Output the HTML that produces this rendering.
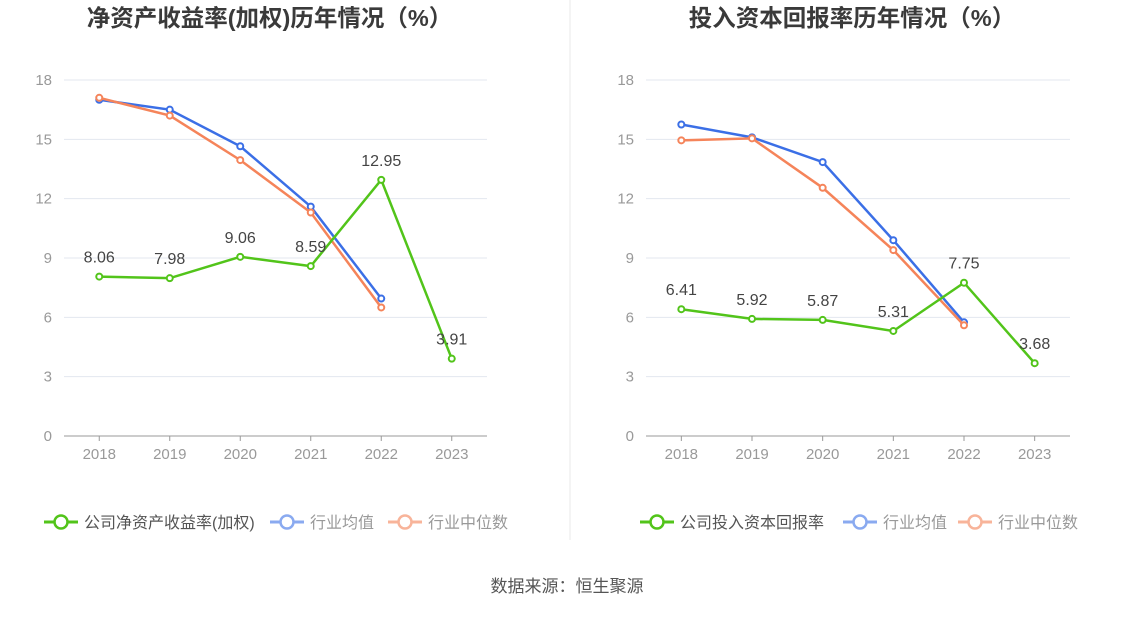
<!DOCTYPE html>
<html><head><meta charset="utf-8"><style>
body{margin:0;background:#fff;font-family:"Liberation Sans","Noto Sans CJK SC",sans-serif;}
svg text{font-family:"Liberation Sans","Noto Sans CJK SC",sans-serif;}
</style></head><body>
<svg id="s" width="1134" height="612" xmlns="http://www.w3.org/2000/svg">
<line x1="570" y1="0" x2="570" y2="540" stroke="#e8e8e8"/>
<text x="567" y="592" text-anchor="middle" font-size="17" fill="#555">数据来源：恒生聚源</text>
</svg>
<script>
const years=["2018","2019","2020","2021","2022","2023"];
const yTicks=[0,3,6,9,12,15,18];
const roeCompany=[8.06,7.98,9.06,8.59,12.95,3.91];
const roeAvg=[17.0,16.5,14.65,11.6,6.95];
const roeMedian=[17.1,16.2,13.95,11.3,6.5];
const roicCompany=[6.41,5.92,5.87,5.31,7.75,3.68];
const roicAvg=[15.75,15.1,13.85,9.9,5.75];
const roicMedian=[14.95,15.05,12.55,9.4,5.6];
const NS="http://www.w3.org/2000/svg";
const svg=document.getElementById('s');
function mk(t,a,p){const e=document.createElementNS(NS,t);for(const k in a)e.setAttribute(k,a[k]);(p||svg).appendChild(e);return e;}
const G="#52c41a",B="#3b6fe6",O="#f5845a";
function panel(name,x0,x1,title,comp,avg,med,legendLabel,legX){
  const g=mk('g',{});
  
  
  const yT=80,yB=436;
  const ys=v=>yB-(v/18)*(yB-yT);
  const step=(x1-x0)/6;
  const xs=i=>x0+step*(i+0.5);
  const tt=mk('text',{x:(x0+x1)/2-6,y:26,'text-anchor':'middle','font-size':23.5,'font-weight':'bold',fill:'#3a3a3a'},g);
  tt.textContent=title;
  
  
  yTicks.forEach(v=>{
    const l=mk('line',{x1:x0,x2:x1,y1:ys(v),y2:ys(v),stroke:v===0?'#999':'#e3e7ef'},g);
    
    
    const t=mk('text',{x:x0-12,y:ys(v)+5,'text-anchor':'end','font-size':15,fill:'#999'},g);
    t.textContent=v;
    
    
  });
  years.forEach((y,i)=>{
    mk('line',{x1:xs(i),x2:xs(i),y1:yB,y2:yB+5,stroke:'#999'},g);
    const t=mk('text',{x:xs(i),y:yB+23,'text-anchor':'middle','font-size':15,fill:'#999'},g);
    t.textContent=y;
    
    
  });
  function series(arr,c,nm,labels){
    const p=mk('polyline',{points:arr.map((v,i)=>xs(i)+','+ys(v)).join(' '),fill:'none',stroke:c,'stroke-width':2.5},g);
    
    
    arr.forEach((v,i)=>{
      const c1=mk('circle',{cx:xs(i),cy:ys(v),r:3,fill:'#fff',stroke:c,'stroke-width':2},g);
      
      
      if(labels){
        const t=mk('text',{x:xs(i),y:ys(v)-14,'text-anchor':'middle','font-size':16,fill:'#444'},g);
        t.textContent=v.toFixed(2);
        
        
      }
    });
  }
  series(avg,B,'industry-average');
  series(med,O,'industry-median');
  series(comp,G,'company',true);
  const items=[[legendLabel,G,'#555'],['行业均值','#8aaaf0','#999'],['行业中位数','#f8b49a','#999']];
  items.forEach(([lab,c,tc],k)=>{
    const lx=legX[k];
    const lg=mk('g',{},g);
    
    
    mk('line',{x1:lx,x2:lx+34,y1:522,y2:522,stroke:c,'stroke-width':3},lg);
    mk('circle',{cx:lx+17,cy:522,r:6.5,fill:'#fff',stroke:c,'stroke-width':2.5},lg);
    const t=mk('text',{x:lx+40,y:528,'font-size':16,fill:tc},lg);
    t.textContent=lab;
  });
}
panel('roe-chart',64,487,'净资产收益率(加权)历年情况（%）',roeCompany,roeAvg,roeMedian,'公司净资产收益率(加权)',[44,270,388]);
panel('roic-chart',646,1070,'投入资本回报率历年情况（%）',roicCompany,roicAvg,roicMedian,'公司投入资本回报率',[640,843,958]);
</script>
</body></html>
